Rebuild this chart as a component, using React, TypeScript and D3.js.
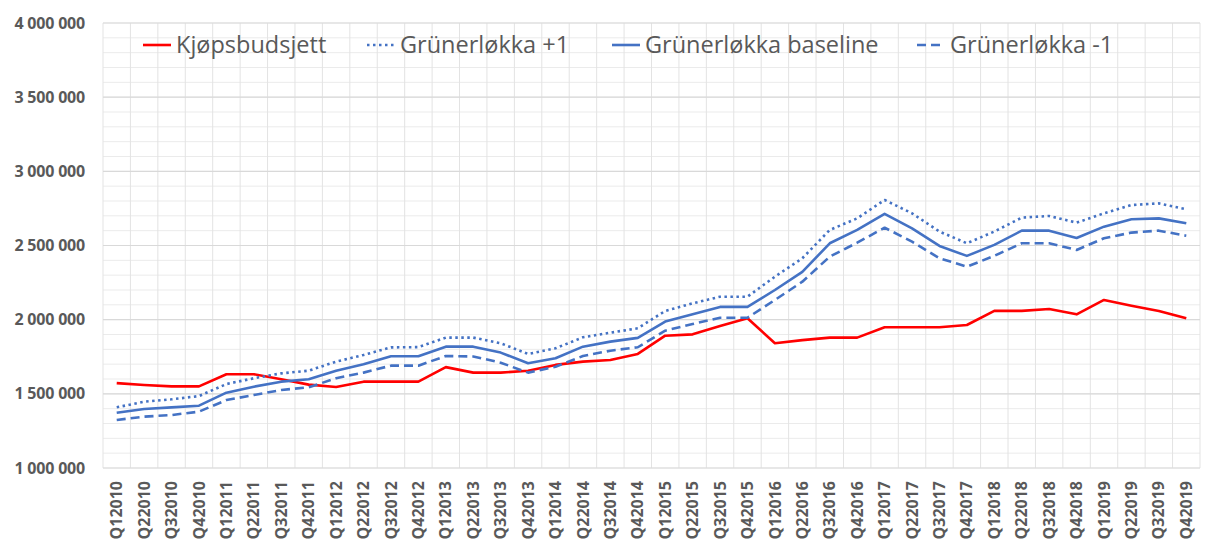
import React from "react";
import * as d3 from "d3";

const quarters: string[] = [];
for (let y = 2010; y <= 2019; y++) for (let q = 1; q <= 4; q++) quarters.push(`Q${q}${y}`);

const kjopsbudsjett = [
  1572000, 1560000, 1550000, 1550000, 1632000, 1632000, 1598000, 1562000,
  1546000, 1582000, 1582000, 1582000, 1680000, 1643000, 1643000, 1656000,
  1695000, 1717000, 1728000, 1769000, 1892000, 1901000, 1957000, 2009000,
  1841000, 1862000, 1879000, 1879000, 1949000, 1949000, 1949000, 1964000,
  2059000, 2059000, 2072000, 2036000, 2133000, 2094000, 2059000, 2009000,
];
const grunerPlus1 = [
  1409000, 1447000, 1463000, 1485000, 1566000, 1605000, 1638000, 1656000,
  1717000, 1762000, 1813000, 1815000, 1879000, 1879000, 1841000, 1769000,
  1807000, 1881000, 1912000, 1942000, 2059000, 2110000, 2155000, 2155000,
  2290000, 2414000, 2605000, 2683000, 2807000, 2717000, 2594000, 2515000,
  2594000, 2688000, 2699000, 2654000, 2717000, 2773000, 2784000, 2744000,
];
const grunerBaseline = [
  1373000, 1398000, 1409000, 1420000, 1508000, 1548000, 1582000, 1598000,
  1656000, 1699000, 1753000, 1753000, 1818000, 1818000, 1778000, 1706000,
  1740000, 1818000, 1852000, 1877000, 1987000, 2036000, 2086000, 2086000,
  2200000, 2322000, 2515000, 2605000, 2713000, 2616000, 2497000, 2430000,
  2504000, 2600000, 2600000, 2551000, 2627000, 2677000, 2683000, 2650000,
];
const grunerMinus1 = [
  1324000, 1346000, 1357000, 1380000, 1458000, 1492000, 1526000, 1544000,
  1605000, 1643000, 1690000, 1690000, 1755000, 1752000, 1710000, 1643000,
  1683000, 1755000, 1791000, 1814000, 1926000, 1971000, 2013000, 2013000,
  2133000, 2256000, 2425000, 2519000, 2620000, 2526000, 2414000, 2357000,
  2430000, 2515000, 2515000, 2470000, 2549000, 2587000, 2600000, 2566000,
];
const yTicks = [1000000, 1500000, 2000000, 2500000, 3000000, 3500000, 4000000];

const seriesNames = ["Kjøpsbudsjett", "Grünerløkka +1", "Grünerløkka baseline", "Grünerløkka -1"];
const seriesData = [kjopsbudsjett, grunerPlus1, grunerBaseline, grunerMinus1];
const seriesColors = ["#FF0000", "#4472C4", "#4472C4", "#4472C4"];
const seriesDash = [null, "2.5 3.5", null, "9 5"];
const legendX = [143, 367, 612, 917];

const W = 1206;
const H = 541;
const left = 103;
const right = 1200;
const top = 23;
const bottom = 468;

export default function App() {
  const x = d3.scaleBand<string>().domain(quarters).range([left, right]).padding(0);
  const y = d3.scaleLinear().domain([1000000, 4000000]).range([bottom, top]);
  const cx = (q: string) => (x(q) as number) + x.bandwidth() / 2;
  const fmt = (v: number) => d3.format(",")(v).replace(/,/g, " ");
  const minor = d3.range(1000000, 4000001, 100000);
  const font = "'Open Sans', 'Liberation Sans', sans-serif";

  return (
    <svg width={W} height={H} style={{ position: "absolute", left: 0, top: 0, background: "#fff" }}>
      <rect x={0} y={0} width={W} height={H} fill="#fff" />
      {minor.map((v) => (
        <line key={"m" + v} x1={left} x2={right} y1={y(v)} y2={y(v)} stroke="#ebebeb" strokeWidth={1} />
      ))}
      {quarters.map((q) => (
        <line key={"v" + q} x1={x(q) as number} x2={x(q) as number} y1={top} y2={bottom} stroke="#e3e3e3" strokeWidth={1} />
      ))}
      <line x1={right} x2={right} y1={top} y2={bottom} stroke="#e3e3e3" strokeWidth={1} />
      {yTicks.map((v) => (
        <line key={"M" + v} x1={left} x2={right} y1={y(v)} y2={y(v)} stroke="#d9d9d9" strokeWidth={1.2} />
      ))}
      {yTicks.map((v) => (
        <text key={"t" + v} x={85} y={y(v)} dy="0.35em" textAnchor="end" fontFamily={font} fontWeight="bold" fontSize={16} letterSpacing={-0.2} fill="#595959">
          {fmt(v)}
        </text>
      ))}
      {quarters.map((q) => (
        <text key={"x" + q} transform={`translate(${cx(q)},${bottom + 13}) rotate(-90)`} dy="0.35em" textAnchor="end" fontFamily={font} fontWeight="bold" fontSize={16} fill="#595959">
          {q}
        </text>
      ))}
      {seriesData.map((d, i) => {
        const line = d3
          .line<number>()
          .x((_, j) => cx(quarters[j]))
          .y((v) => y(v));
        return (
          <path
            key={"s" + i}
            d={line(d) || ""}
            fill="none"
            stroke={seriesColors[i]}
            strokeWidth={2.6}
            strokeDasharray={seriesDash[i] || undefined}
            strokeLinejoin="round"
          />
        );
      })}
      {seriesNames.map((n, i) => (
        <g key={"l" + i}>
          <line x1={legendX[i]} x2={legendX[i] + 28} y1={45} y2={45} stroke={seriesColors[i]} strokeWidth={2.6} strokeDasharray={seriesDash[i] || undefined} />
          <text x={legendX[i] + 33} y={45} dy="0.35em" fontFamily={font} fontSize={23.5} fill="#595959">
            {n}
          </text>
        </g>
      ))}
    </svg>
  );
}
